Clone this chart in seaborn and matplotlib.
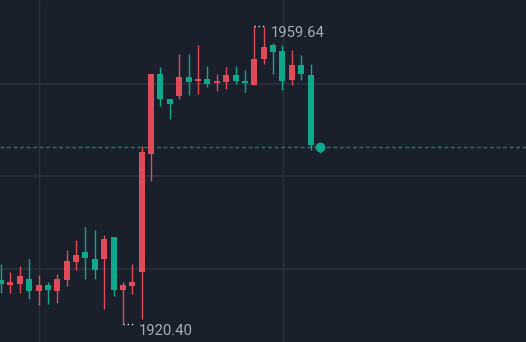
import numpy as np
import pandas as pd
import matplotlib
matplotlib.use("Agg")
import matplotlib.pyplot as plt
import seaborn as sns

# OHLC data (red = up, green = down)
opens  = [1926.23, 1925.57, 1925.75, 1926.41, 1924.78, 1925.57, 1924.78, 1926.23, 1928.55, 1929.87,
          1929.04, 1929.04, 1931.84, 1924.92, 1925.44, 1927.24, 1942.85, 1953.37, 1950.08, 1950.39,
          1952.89, 1952.41, 1952.71, 1952.10, 1952.23, 1953.20, 1952.41, 1951.88, 1955.34, 1957.19,
          1956.35, 1952.54, 1954.51, 1953.20, 1943.85]
highs  = [1928.33, 1927.24, 1928.07, 1929.04, 1926.89, 1925.92, 1927.02, 1930.18, 1931.49, 1933.16,
          1932.81, 1932.15, 1931.84, 1925.92, 1928.33, 1943.86, 1953.37, 1954.20, 1950.08, 1956.00,
          1956.00, 1957.14, 1954.38, 1953.37, 1954.20, 1954.38, 1953.85, 1959.64, 1959.46, 1957.36,
          1957.19, 1956.53, 1955.83, 1954.69, 1944.30]
lows   = [1924.57, 1924.57, 1924.57, 1923.78, 1922.94, 1923.08, 1923.25, 1925.44, 1927.55, 1926.41,
          1926.41, 1922.46, 1924.13, 1920.40, 1924.43, 1921.14, 1939.25, 1949.12, 1947.45, 1950.08,
          1950.61, 1950.74, 1951.57, 1951.09, 1951.40, 1952.06, 1950.92, 1951.88, 1954.69, 1953.37,
          1951.27, 1951.88, 1952.54, 1943.33, 1942.89]
closes = [1925.71, 1925.92, 1926.76, 1924.78, 1925.57, 1924.92, 1926.36, 1928.69, 1929.52, 1929.17,
          1927.55, 1931.67, 1924.92, 1925.57, 1925.92, 1943.02, 1953.37, 1950.08, 1949.43, 1952.89,
          1952.23, 1952.71, 1952.06, 1952.27, 1953.20, 1952.41, 1952.10, 1955.34, 1956.83, 1956.18,
          1952.41, 1954.51, 1953.37, 1943.99, 1943.67]

high_label = "1959.64"
low_label = "1920.40"
last_price = 1943.67
grid_prices = [1952.05, 1939.87, 1927.64]
grid_times = [4.08, 30.03]

BG = "#1a1f2c"
GRID = "#2a3140"
UP = "#e04b5a"
DOWN = "#0ea98a"
TEXT = "#a7acb7"

df = pd.DataFrame({"open": opens, "high": highs, "low": lows, "close": closes})
df["idx"] = np.arange(len(df))
df["up"] = df["close"] >= df["open"]
df["color"] = np.where(df["up"], UP, DOWN)
df["bottom"] = df[["open", "close"]].min(axis=1)
df["height"] = (df["open"] - df["close"]).abs().clip(lower=0.28)

sns.set_theme(style="dark", rc={"axes.facecolor": BG, "figure.facecolor": BG})
plt.rcParams["font.family"] = ["Roboto", "DejaVu Sans"]

fig = plt.figure(figsize=(5.26, 3.42), dpi=100)
ax = fig.add_axes([0, 0, 1, 1])
ax.set_facecolor(BG)

for g in grid_prices:
    ax.axhline(g, color=GRID, lw=1.1, zorder=0)
for t in grid_times:
    ax.axvline(t, color=GRID, lw=1.0, zorder=0)

# current price line
ax.axhline(last_price, color="#11806d", lw=1.0, ls=(0, (2.7, 2.0)), zorder=1)

# wicks
ax.vlines(df["idx"], df["low"], df["high"], colors=df["color"], lw=1.0, zorder=2)
# bodies
ax.bar(df["idx"], df["height"], bottom=df["bottom"], width=0.64,
       color=df["color"], linewidth=0, zorder=3)

# last price dot
last = df.iloc[[-1]]
sns.scatterplot(data=last, x="idx", y="close", ax=ax, color=DOWN, s=50,
                edgecolor=DOWN, linewidth=0, zorder=4, legend=False)

# high / low annotations
hi_i = int(np.argmax(highs))
lo_i = int(np.argmin(lows))
ax.plot([hi_i, hi_i + 1.3], [highs[hi_i]] * 2, color="#d8dbe2", lw=1.0,
        ls=(0, (1, 2)), zorder=5)
ax.text(hi_i + 1.75, highs[hi_i] - 0.9, high_label, color=TEXT, fontsize=10.7,
        va="center", ha="left")
ax.plot([lo_i, lo_i + 1.3], [lows[lo_i]] * 2, color="#d8dbe2", lw=1.0,
        ls=(0, (1, 2)), zorder=5)
ax.text(lo_i + 1.7, lows[lo_i] - 0.88, low_label, color=TEXT, fontsize=10.7,
        va="center", ha="left")

ax.set_xlim(-0.107, 55.97)
ax.set_ylim(1918.08, 1963.06)
ax.set_xticks([])
ax.set_yticks([])
ax.set_xlabel("")
ax.set_ylabel("")
for s in ax.spines.values():
    s.set_visible(False)

fig.savefig("out.png", dpi=100, facecolor=BG)
